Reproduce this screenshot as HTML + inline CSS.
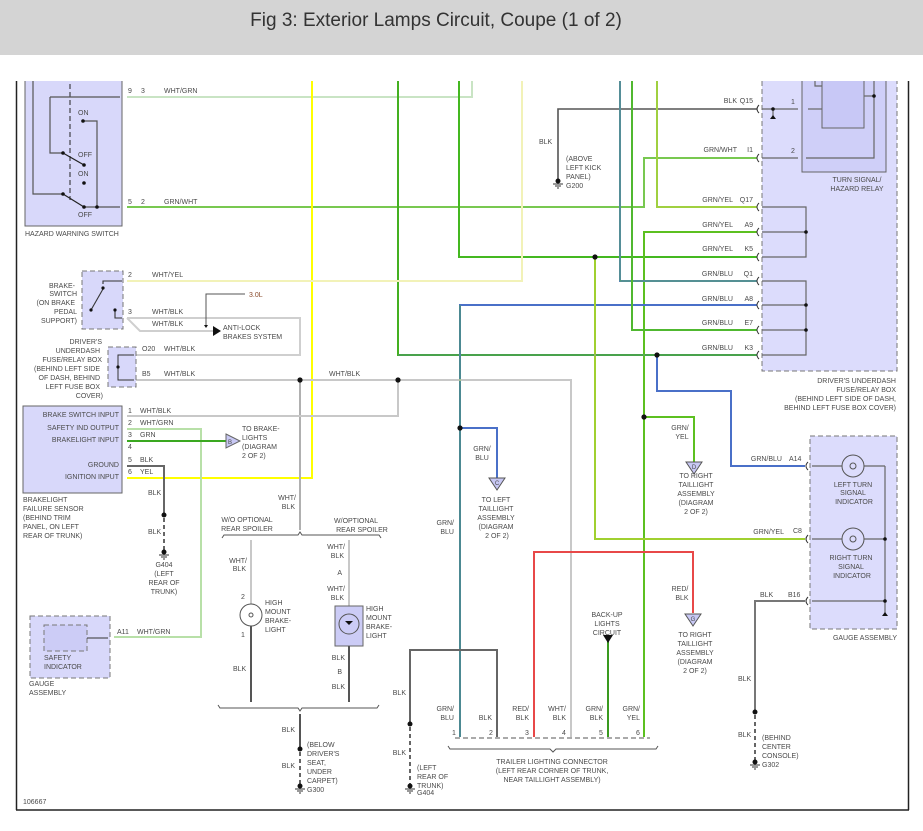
<!DOCTYPE html>
<html><head><meta charset="utf-8"><style>
html,body{margin:0;padding:0;background:#fff;}
svg{display:block;}
text{font-family:"Liberation Sans",sans-serif;font-size:7px;fill:#4a4a4a;}
.t{font-size:19px;fill:#333;}
.r{text-anchor:end;}
.m{text-anchor:middle;}
</style></head><body>
<svg width="923" height="831" viewBox="0 0 923 831" xmlns="http://www.w3.org/2000/svg">

<!-- frame -->
<line x1="16.5" y1="81" x2="16.5" y2="810" stroke="#222" stroke-width="1.5"/>
<line x1="908.5" y1="81" x2="908.5" y2="810" stroke="#222" stroke-width="1.5"/>
<line x1="16" y1="810" x2="909" y2="810" stroke="#222" stroke-width="1.5"/>

<!-- hazard switch -->
<rect x="25" y="76" width="97" height="150" fill="#d8d8fa" stroke="#666"/>
<line x1="70" y1="76" x2="70" y2="200" stroke="#222" stroke-dasharray="5,3"/>
<g stroke="#555" fill="none" stroke-width="1.2">
<polyline points="50,97 120,97"/><polyline points="50,97 50,153 63,153"/>
<polyline points="33,76 33,194 63,194"/>
<polyline points="83,121 97,121 97,207"/>
<polyline points="84,207 120,207"/>
</g>
<g stroke="#222" stroke-width="1.2"><line x1="63" y1="153" x2="84" y2="165"/><line x1="63" y1="194" x2="84" y2="207"/></g>
<g fill="#111"><circle cx="63" cy="153" r="1.8"/><circle cx="84" cy="165" r="1.8"/><circle cx="83" cy="121" r="1.8"/><circle cx="84" cy="183" r="1.8"/><circle cx="63" cy="194" r="1.8"/><circle cx="84" cy="207" r="1.8"/><circle cx="97" cy="207" r="1.8"/></g>
<text x="78" y="115">ON</text><text x="78" y="157">OFF</text><text x="78" y="176">ON</text><text x="78" y="217">OFF</text>
<text x="25" y="236">HAZARD WARNING SWITCH</text>
<text x="128" y="93">9</text><text x="141" y="93">3</text><text x="164" y="93">WHT/GRN</text>
<text x="128" y="204">5</text><text x="141" y="204">2</text><text x="164" y="204">GRN/WHT</text>

<!-- wires top section -->
<g fill="none" stroke-width="2">
<polyline points="127,97 472,97 472,76" stroke="#c9e4c4"/>
<polyline points="127,207 644,207 644,158 757,158" stroke="#78c850"/>
<polyline points="312,76 312,478 127,478" stroke="#ffff00"/>
<polyline points="398,76 398,355 757,355" stroke="#44b020"/>
<polyline points="459,76 459,257 757,257" stroke="#44b820"/>
<polyline points="127,281 522,281 522,76" stroke="#f2f2b8"/>
<polyline points="757,109 558,109 558,181" stroke="#555" stroke-width="1.6"/>
<polyline points="657,76 657,207 757,207" stroke="#a0d040"/>
<polyline points="757,232 644,232 644,737" stroke="#5cc020"/>
<polyline points="644,417 694,417 694,462" stroke="#5cc020"/>
<polyline points="620,76 620,281 757,281" stroke="#5878d0"/>
<polyline points="757,305 460,305 460,737" stroke="#4a70c8"/>
<polyline points="460,428 497,428 497,478" stroke="#4a70c8"/>
<polyline points="757,330 632,330 632,76" stroke="#50b830"/>
<polyline points="657,355 657,391 731,391 731,466 805,466" stroke="#4a70c8"/>
<polyline points="595,257 595,539 805,539" stroke="#a0d030"/>
<polyline points="127,380 571,380 571,737" stroke="#c8c8c8"/>
<polyline points="127,318 300,318 300,355 127,355" stroke="#cfcfcf"/>
<polyline points="127,318 140,331 213,331" stroke="#cfcfcf"/>
<polyline points="300,380 300,530" stroke="#b0b0b0"/>
<polyline points="127,416 398,416 398,380" stroke="#c8c8c8"/>
<polyline points="127,429 201,429 201,637 114,637" stroke="#b8e0a8"/>
<polyline points="127,441 226,441" stroke="#3aa820"/>
<polyline points="127,466 164,466 164,515" stroke="#666"/>
</g>
<polyline points="620,76 620,281 757,281" fill="none" stroke="#50b830" stroke-width="0.7"/>
<polyline points="460,305 460,737" fill="none" stroke="#50b830" stroke-width="0.7"/>
<polyline points="398,355 757,355" fill="none" stroke="#5878d0" stroke-width="0.5"/>
<g fill="#111"><circle cx="595" cy="257" r="2.6"/><circle cx="657" cy="355" r="2.6"/><circle cx="644" cy="417" r="2.6"/><circle cx="460" cy="428" r="2.6"/><circle cx="300" cy="380" r="2.6"/><circle cx="398" cy="380" r="2.6"/></g>

<!-- G200 -->
<circle cx="558" cy="181" r="2.5" fill="#111"/>
<g stroke="#333"><line x1="553" y1="184" x2="563" y2="184"/><line x1="555" y1="186" x2="561" y2="186"/><line x1="557" y1="188" x2="559" y2="188"/></g>
<text x="539" y="144">BLK</text>
<text x="566" y="161">(ABOVE</text><text x="566" y="170">LEFT KICK</text><text x="566" y="179">PANEL)</text><text x="566" y="188">G200</text>

<text class="r" x="737" y="103">BLK</text><text class="r" x="753" y="103">Q15</text>
<text class="r" x="737" y="152">GRN/WHT</text><text class="r" x="753" y="152">I1</text>
<text class="r" x="733" y="202">GRN/YEL</text><text class="r" x="753" y="202">Q17</text>
<text class="r" x="733" y="227">GRN/YEL</text><text class="r" x="753" y="227">A9</text>
<text class="r" x="733" y="251">GRN/YEL</text><text class="r" x="753" y="251">K5</text>
<text class="r" x="733" y="276">GRN/BLU</text><text class="r" x="753" y="276">Q1</text>
<text class="r" x="733" y="301">GRN/BLU</text><text class="r" x="753" y="301">A8</text>
<text class="r" x="733" y="325">GRN/BLU</text><text class="r" x="753" y="325">E7</text>
<text class="r" x="733" y="350">GRN/BLU</text><text class="r" x="753" y="350">K3</text>

<!-- underdash fuse box -->
<rect x="762" y="70" width="135" height="301" fill="#dcdcfc" stroke="#777" stroke-dasharray="5,3"/>
<rect x="802" y="70" width="84" height="102" fill="#cfcff8" stroke="#666"/>
<rect x="822" y="70" width="42" height="58" fill="#c8c8f6" stroke="#666"/>
<g fill="none" stroke="#666" stroke-width="1.2">
<polyline points="815,70 815,86 822,86"/><polyline points="874,70 874,158 806,158"/>
<polyline points="864,96 874,96"/>
<line x1="808" y1="109" x2="822" y2="109"/><line x1="762" y1="109" x2="798" y2="109"/>
<line x1="762" y1="158" x2="798" y2="158"/>
<line x1="773" y1="109" x2="773" y2="116"/>
<polyline points="762,207 806,207 806,257 762,257"/><line x1="762" y1="232" x2="806" y2="232"/>
<polyline points="762,281 806,281 806,355 762,355"/><line x1="762" y1="305" x2="806" y2="305"/><line x1="762" y1="330" x2="806" y2="330"/>
</g>
<g fill="#111"><circle cx="874" cy="96" r="1.8"/><circle cx="773" cy="109" r="1.8"/><circle cx="806" cy="232" r="1.8"/><circle cx="806" cy="305" r="1.8"/><circle cx="806" cy="330" r="1.8"/></g>
<path d="M770,119 l3,-4 l3,4z" fill="#111"/>
<text x="791" y="104">1</text><text x="791" y="153">2</text>
<text class="m" x="857" y="182">TURN SIGNAL/</text><text class="m" x="857" y="191">HAZARD RELAY</text>
<text class="r" x="896" y="383">DRIVER'S UNDERDASH</text><text class="r" x="896" y="392">FUSE/RELAY BOX</text><text class="r" x="896" y="401">(BEHIND LEFT SIDE OF DASH,</text><text class="r" x="896" y="410">BEHIND LEFT FUSE BOX COVER)</text>
<g fill="none" stroke="#333" stroke-width="1">
<path d="M759,105 q-4,4 0,8"/><path d="M759,154 q-4,4 0,8"/><path d="M759,203 q-4,4 0,8"/><path d="M759,228 q-4,4 0,8"/><path d="M759,253 q-4,4 0,8"/><path d="M759,277 q-4,4 0,8"/><path d="M759,301 q-4,4 0,8"/><path d="M759,326 q-4,4 0,8"/><path d="M759,351 q-4,4 0,8"/>
<path d="M808,462 q-4,4 0,8"/><path d="M808,535 q-4,4 0,8"/><path d="M808,597 q-4,4 0,8"/>
</g>

<!-- brake switch -->
<rect x="82" y="271" width="41" height="58" fill="#d8d8fa" stroke="#777" stroke-dasharray="5,3"/>
<g fill="none" stroke="#333" stroke-width="1.1"><polyline points="103,284 103,281 122,281"/><line x1="103" y1="289" x2="91" y2="310"/><polyline points="115,310 115,318 122,318"/></g>
<g fill="#111"><circle cx="103" cy="288" r="1.6"/><circle cx="91" cy="310" r="1.6"/><circle cx="115" cy="310" r="1.6"/></g>
<text class="r" x="75" y="288">BRAKE-</text><text class="r" x="77" y="296">SWITCH</text><text class="r" x="75" y="305">(ON BRAKE</text><text class="r" x="77" y="314">PEDAL</text><text class="r" x="77" y="323">SUPPORT)</text>
<text x="128" y="277">2</text><text x="152" y="277">WHT/YEL</text>
<text x="128" y="314">3</text><text x="152" y="314">WHT/BLK</text><text x="152" y="326">WHT/BLK</text>
<polyline points="245,294 206,294 206,326" fill="none" stroke="#555"/>
<path d="M204,325 l2,3 l2,-3z" fill="#111"/>
<text x="249" y="297" style="fill:#8a4a2a">3.0L</text>
<path d="M213,326 l8,5 l-8,5z" fill="#111"/>
<text x="223" y="330">ANTI-LOCK</text><text x="223" y="339">BRAKES SYSTEM</text>

<!-- small fuse box -->
<rect x="108" y="347" width="28" height="40" fill="#d8d8fa" stroke="#777" stroke-dasharray="5,3"/>
<g fill="none" stroke="#333"><polyline points="134,355 118,355 118,380 134,380"/></g>
<circle cx="118" cy="367" r="1.6" fill="#111"/>
<text class="r" x="102" y="344">DRIVER'S</text><text class="r" x="100" y="353">UNDERDASH</text><text class="r" x="102" y="362">FUSE/RELAY BOX</text><text class="r" x="100" y="371">(BEHIND LEFT SIDE</text><text class="r" x="100" y="380">OF DASH, BEHIND</text><text class="r" x="100" y="389">LEFT FUSE BOX</text><text class="r" x="103" y="398">COVER)</text>
<text x="142" y="351">O20</text><text x="164" y="351">WHT/BLK</text>
<text x="142" y="376">B5</text><text x="164" y="376">WHT/BLK</text>
<text x="329" y="376">WHT/BLK</text>

<!-- brakelight failure sensor -->
<rect x="23" y="406" width="99" height="87" fill="#d8d8fa" stroke="#666"/>
<text class="r" x="119" y="417">BRAKE SWITCH INPUT</text><text class="r" x="119" y="430">SAFETY IND OUTPUT</text><text class="r" x="119" y="442">BRAKELIGHT INPUT</text><text class="r" x="119" y="467">GROUND</text><text class="r" x="119" y="479">IGNITION INPUT</text>
<text x="128" y="413">1</text><text x="140" y="413">WHT/BLK</text>
<text x="128" y="425">2</text><text x="140" y="425">WHT/GRN</text>
<text x="128" y="437">3</text><text x="140" y="437">GRN</text>
<text x="128" y="449">4</text>
<text x="128" y="462">5</text><text x="140" y="462">BLK</text>
<text x="128" y="474">6</text><text x="140" y="474">YEL</text>
<text x="23" y="502">BRAKELIGHT</text><text x="23" y="511">FAILURE SENSOR</text><text x="23" y="520">(BEHIND TRIM</text><text x="23" y="529">PANEL, ON LEFT</text><text x="23" y="538">REAR OF TRUNK)</text>
<path d="M226,434 l14,7 l-14,7z" fill="#c8c8f4" stroke="#666"/>
<text x="228" y="444" style="font-size:6px">B</text>
<text x="242" y="431">TO BRAKE-</text><text x="242" y="440">LIGHTS</text><text x="242" y="449">(DIAGRAM</text><text x="242" y="458">2 OF 2)</text>

<circle cx="164" cy="515" r="2.5" fill="#111"/>
<line x1="164" y1="518" x2="164" y2="552" stroke="#333" stroke-dasharray="4,3" stroke-width="1.5"/>
<circle cx="164" cy="552" r="2.5" fill="#111"/>
<g stroke="#333"><line x1="159" y1="555" x2="169" y2="555"/><line x1="161" y1="557" x2="167" y2="557"/><line x1="163" y1="559" x2="165" y2="559"/></g>
<text x="148" y="495">BLK</text><text x="148" y="534">BLK</text>
<text class="m" x="164" y="567">G404</text><text class="m" x="164" y="576">(LEFT</text><text class="m" x="164" y="585">REAR OF</text><text class="m" x="164" y="594">TRUNK)</text>

<rect x="30" y="616" width="80" height="62" fill="#d8d8fa" stroke="#777" stroke-dasharray="5,3"/>
<rect x="44" y="625" width="43" height="26" fill="#ccccf6" stroke="#777" stroke-dasharray="5,3"/>
<line x1="87" y1="638" x2="108" y2="638" stroke="#333"/>
<text x="44" y="660">SAFETY</text><text x="44" y="669">INDICATOR</text>
<text x="29" y="686">GAUGE</text><text x="29" y="695">ASSEMBLY</text>
<text x="117" y="634">A11</text><text x="137" y="634">WHT/GRN</text>

<text class="m" x="247" y="522">W/O OPTIONAL</text><text class="m" x="247" y="531">REAR SPOILER</text>
<text class="m" x="356" y="523">W/OPTIONAL</text><text class="m" x="362" y="532">REAR SPOILER</text>
<text class="r" x="296" y="500">WHT/</text><text class="r" x="295" y="509">BLK</text>
<path d="M222,538 l2,-3 l74,0 l2,-3 l2,3 l77,0 l2,3" fill="none" stroke="#555"/>
<line x1="251" y1="540" x2="251" y2="605" stroke="#c8c8c8" stroke-width="2"/>
<line x1="251" y1="626" x2="251" y2="702" stroke="#555" stroke-width="2"/>
<circle cx="251" cy="615" r="11" fill="#fff" stroke="#555"/>
<circle cx="251" cy="615" r="2" fill="none" stroke="#555"/>
<text class="r" x="247" y="563">WHT/</text><text class="r" x="246" y="571">BLK</text>
<text x="241" y="599">2</text><text x="241" y="637">1</text>
<text x="265" y="605">HIGH</text><text x="265" y="614">MOUNT</text><text x="265" y="623">BRAKE-</text><text x="265" y="632">LIGHT</text>
<text x="233" y="671">BLK</text>
<line x1="349" y1="540" x2="349" y2="606" stroke="#c8c8c8" stroke-width="2"/>
<rect x="335" y="606" width="28" height="40" fill="#ccccf6" stroke="#666"/>
<circle cx="349" cy="624" r="10" fill="none" stroke="#555"/>
<path d="M345,621 l4,4 l4,-4z" fill="#111"/>
<line x1="349" y1="646" x2="349" y2="702" stroke="#555" stroke-width="2"/>
<text class="r" x="345" y="549">WHT/</text><text class="r" x="344" y="558">BLK</text><text class="r" x="342" y="575">A</text>
<text class="r" x="345" y="591">WHT/</text><text class="r" x="344" y="600">BLK</text>
<text x="366" y="611">HIGH</text><text x="366" y="620">MOUNT</text><text x="366" y="629">BRAKE-</text><text x="366" y="638">LIGHT</text>
<text class="r" x="345" y="660">BLK</text><text class="r" x="342" y="674">B</text><text class="r" x="345" y="689">BLK</text>
<path d="M218,705 l2,3 l78,0 l2,3 l2,-3 l75,0 l2,-3" fill="none" stroke="#555"/>
<line x1="300" y1="714" x2="300" y2="749" stroke="#555" stroke-width="2"/>
<circle cx="300" cy="749" r="2.5" fill="#111"/>
<line x1="300" y1="752" x2="300" y2="786" stroke="#333" stroke-dasharray="4,3" stroke-width="1.5"/>
<circle cx="300" cy="786" r="2.5" fill="#111"/>
<g stroke="#333"><line x1="295" y1="789" x2="305" y2="789"/><line x1="297" y1="791" x2="303" y2="791"/><line x1="299" y1="793" x2="301" y2="793"/></g>
<text class="r" x="295" y="732">BLK</text><text class="r" x="295" y="768">BLK</text>
<text x="307" y="747">(BELOW</text><text x="307" y="756">DRIVER'S</text><text x="307" y="765">SEAT,</text><text x="307" y="774">UNDER</text><text x="307" y="783">CARPET)</text><text x="307" y="792">G300</text>
<text x="23" y="804">106667</text>

<polyline points="497,737 497,650 410,650 410,724" fill="none" stroke="#666" stroke-width="2"/>
<circle cx="410" cy="724" r="2.5" fill="#111"/>
<line x1="410" y1="727" x2="410" y2="786" stroke="#333" stroke-dasharray="4,3" stroke-width="1.5"/>
<circle cx="410" cy="786" r="2.5" fill="#111"/>
<g stroke="#333"><line x1="405" y1="789" x2="415" y2="789"/><line x1="407" y1="791" x2="413" y2="791"/><line x1="409" y1="793" x2="411" y2="793"/></g>
<text class="r" x="406" y="695">BLK</text><text class="r" x="406" y="755">BLK</text>
<text x="417" y="770">(LEFT</text><text x="417" y="779">REAR OF</text><text x="417" y="788">TRUNK)</text><text x="417" y="795">G404</text>
<polyline points="534,737 534,552 693,552 693,613" fill="none" stroke="#e84848" stroke-width="2"/>
<line x1="608" y1="640" x2="608" y2="737" stroke="#3a9a20" stroke-width="2"/>
<path d="M603,635 l10,0 l-5,8z" fill="#111"/>
<text class="m" x="607" y="617">BACK-UP</text><text class="m" x="607" y="626">LIGHTS</text><text class="m" x="607" y="635">CIRCUIT</text>
<line x1="455" y1="738" x2="650" y2="738" stroke="#555" stroke-dasharray="5,3"/>
<path d="M448,746 l2,3 l100,0 l3,3 l3,-3 l100,0 l2,-3" fill="none" stroke="#555"/>
<text x="452" y="735">1</text><text x="489" y="735">2</text><text x="525" y="735">3</text><text x="562" y="735">4</text><text x="599" y="735">5</text><text x="636" y="735">6</text>
<text class="r" x="454" y="711">GRN/</text><text class="r" x="454" y="720">BLU</text>
<text class="r" x="492" y="720">BLK</text>
<text class="r" x="529" y="711">RED/</text><text class="r" x="529" y="720">BLK</text>
<text class="r" x="566" y="711">WHT/</text><text class="r" x="566" y="720">BLK</text>
<text class="r" x="603" y="711">GRN/</text><text class="r" x="603" y="720">BLK</text>
<text class="r" x="640" y="711">GRN/</text><text class="r" x="640" y="720">YEL</text>
<text class="m" x="552" y="764">TRAILER LIGHTING CONNECTOR</text><text class="m" x="552" y="773">(LEFT REAR CORNER OF TRUNK,</text><text class="m" x="552" y="782">NEAR TAILLIGHT ASSEMBLY)</text>
<text class="r" x="454" y="525">GRN/</text><text class="r" x="454" y="534">BLU</text>
<text class="m" x="482" y="451">GRN/</text><text class="m" x="482" y="460">BLU</text>

<path d="M489,478 l16,0 l-8,12z" fill="#c8c8f4" stroke="#555"/><text class="m" x="497" y="485" style="font-size:6px">C</text>
<text class="m" x="496" y="502">TO LEFT</text><text class="m" x="496" y="511">TAILLIGHT</text><text class="m" x="496" y="520">ASSEMBLY</text><text class="m" x="496" y="529">(DIAGRAM</text><text class="m" x="497" y="538">2 OF 2)</text>
<path d="M686,462 l16,0 l-8,12z" fill="#c8c8f4" stroke="#555"/><text class="m" x="694" y="469" style="font-size:6px">D</text>
<text class="m" x="680" y="430">GRN/</text><text class="m" x="682" y="439">YEL</text>
<text class="m" x="696" y="478">TO RIGHT</text><text class="m" x="696" y="487">TAILLIGHT</text><text class="m" x="696" y="496">ASSEMBLY</text><text class="m" x="696" y="505">(DIAGRAM</text><text class="m" x="696" y="514">2 OF 2)</text>
<path d="M685,614 l16,0 l-8,12z" fill="#c8c8f4" stroke="#555"/><text class="m" x="693" y="621" style="font-size:6px">G</text>
<text class="m" x="680" y="591">RED/</text><text class="m" x="682" y="600">BLK</text>
<text class="m" x="695" y="637">TO RIGHT</text><text class="m" x="695" y="646">TAILLIGHT</text><text class="m" x="695" y="655">ASSEMBLY</text><text class="m" x="695" y="664">(DIAGRAM</text><text class="m" x="695" y="673">2 OF 2)</text>

<rect x="810" y="436" width="87" height="193" fill="#dcdcfc" stroke="#777" stroke-dasharray="5,3"/>
<g fill="none" stroke="#666" stroke-width="1.2">
<line x1="812" y1="466" x2="842" y2="466"/><line x1="864" y1="466" x2="885" y2="466"/>
<line x1="812" y1="539" x2="842" y2="539"/><line x1="864" y1="539" x2="885" y2="539"/>
<polyline points="885,466 885,614"/><line x1="812" y1="601" x2="885" y2="601"/>
</g>
<g fill="none" stroke="#555"><circle cx="853" cy="466" r="11"/><circle cx="853" cy="539" r="11"/><circle cx="853" cy="466" r="3"/><circle cx="853" cy="539" r="3"/></g>
<g fill="#111"><circle cx="885" cy="539" r="1.8"/><circle cx="885" cy="601" r="1.8"/></g>
<path d="M882,616 l3,-4 l3,4z" fill="#111"/>
<text class="m" x="853" y="487">LEFT TURN</text><text class="m" x="853" y="495">SIGNAL</text><text class="m" x="854" y="504">INDICATOR</text>
<text class="m" x="851" y="560">RIGHT TURN</text><text class="m" x="851" y="569">SIGNAL</text><text class="m" x="852" y="578">INDICATOR</text>
<text class="r" x="897" y="640">GAUGE ASSEMBLY</text>
<text class="r" x="782" y="461">GRN/BLU</text><text x="789" y="461">A14</text>
<text class="r" x="784" y="534">GRN/YEL</text><text x="793" y="533">C8</text>
<text x="760" y="597">BLK</text><text x="788" y="597">B16</text>
<polyline points="805,601 755,601 755,712" fill="none" stroke="#777" stroke-width="2"/>
<circle cx="755" cy="712" r="2.5" fill="#111"/>
<line x1="755" y1="715" x2="755" y2="762" stroke="#333" stroke-dasharray="4,3" stroke-width="1.5"/>
<circle cx="755" cy="762" r="2.5" fill="#111"/>
<g stroke="#333"><line x1="750" y1="765" x2="760" y2="765"/><line x1="752" y1="767" x2="758" y2="767"/><line x1="754" y1="769" x2="756" y2="769"/></g>
<text x="738" y="681">BLK</text><text x="738" y="737">BLK</text>
<text x="762" y="740">(BEHIND</text><text x="762" y="749">CENTER</text><text x="762" y="758">CONSOLE)</text><text x="762" y="767">G302</text>

<!-- top cut-off mask and header -->
<rect x="0" y="55" width="923" height="26" fill="#fff"/>
<rect x="0" y="0" width="923" height="55" fill="#d4d4d4"/>
<text class="t m" x="436" y="26">Fig 3: Exterior Lamps Circuit, Coupe (1 of 2)</text>
</svg>
</body></html>
